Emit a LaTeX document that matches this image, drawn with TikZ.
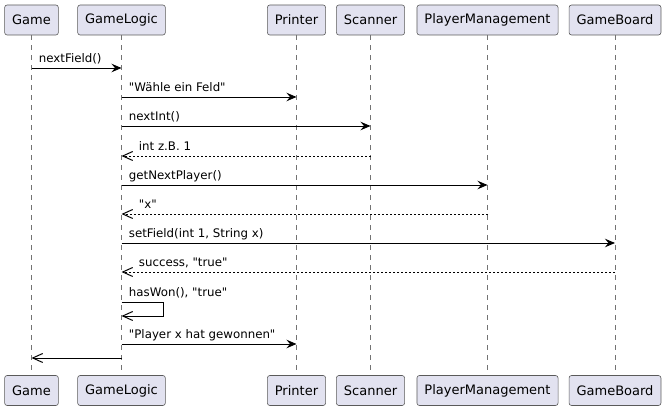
\documentclass[tikz,border=0pt]{standalone}
\usepackage{fontspec}
\setmainfont{DejaVu Sans}[Ligatures=TeXOff]
\usepackage{tikz}
\usetikzlibrary{%
  positioning
 ,arrows.meta
 ,calc
}
\definecolor{partfill}{HTML}{E2E2F0}
\definecolor{partline}{HTML}{5A5A5A}
\newcommand{\dq}{\symbol{34}}
\tikzstyle{part}=[rectangle,rounded corners=2.5pt,draw=partline,line width=0.6pt,fill=partfill,minimum height=30pt,inner xsep=7.5pt,font=\fontsize{13}{15}\selectfont]
\tikzstyle{life}=[draw=black!55,line width=0.6pt,dash pattern=on 5pt off 5pt]
\tikzstyle{call}=[line width=0.9pt,-{Stealth[length=10pt,width=8.5pt,inset=3.5pt]}]
\tikzstyle{ret}=[line width=0.8pt,dash pattern=on 2pt off 2pt,-{Straight Barb[length=10pt,width=9pt,line width=1pt]}]
\tikzstyle{back}=[line width=0.9pt,-{Straight Barb[length=10pt,width=9pt,line width=1pt]}]
\tikzstyle{lbl}=[anchor=base west,inner sep=0pt,xshift=7pt,yshift=5pt,font=\fontsize{11.8}{14}\selectfont]
\tikzstyle{lblr}=[anchor=base west,inner sep=0pt,xshift=17pt,yshift=5pt,font=\fontsize{11.8}{14}\selectfont]

\begin{document}
\begin{tikzpicture}[x=1pt,y=-1pt]
  \useasboundingbox (0,0) rectangle (667,411);
  % participants, top and bottom, with lifelines
  \foreach \p/\x in {Game/31.5,GameLogic/121.5,Printer/296.5,Scanner/370.5,PlayerManagement/487.5,GameBoard/615}{
    \node[part] (t\p) at (\x,20) {\p};
    \node[part] (b\p) at (\x,390.5) {\p};
    \draw[life] (t\p) -- (b\p);
  }
  % messages
  \draw[call] (tGame |- 0,68) -- (tGameLogic |- 0,68) node[lbl,at start] {nextField()};
  \draw[call] (tGameLogic |- 0,97) -- (tPrinter |- 0,97) node[lbl,at start] {\dq Wähle ein Feld\dq};
  \draw[call] (tGameLogic |- 0,126) -- (tScanner |- 0,126) node[lbl,at start] {nextInt()};
  \draw[ret] (tScanner |- 0,156) -- (tGameLogic |- 0,156) node[lblr,at end] {int z.B. 1};
  \draw[call] (tGameLogic |- 0,185) -- (tPlayerManagement |- 0,185) node[lbl,at start] {getNextPlayer()};
  \draw[ret] (tPlayerManagement |- 0,214) -- (tGameLogic |- 0,214) node[lblr,at end] {\dq x\dq};
  \draw[call] (tGameLogic |- 0,243) -- (tGameBoard |- 0,243) node[lbl,at start] {setField(int 1, String x)};
  \draw[ret] (tGameBoard |- 0,272) -- (tGameLogic |- 0,272) node[lblr,at end] {success, \dq true\dq};
  \draw[back] (tGameLogic |- 0,302) node[lbl] {hasWon(), \dq true\dq} -- ++(42,0) -- ++(0,14) -- (tGameLogic |- 0,316);
  \draw[call] (tGameLogic |- 0,344) -- (tPrinter |- 0,344) node[lbl,at start] {\dq Player x hat gewonnen\dq};
  \draw[back] (tGameLogic |- 0,358) -- (tGame |- 0,358);
\end{tikzpicture}
\end{document}
